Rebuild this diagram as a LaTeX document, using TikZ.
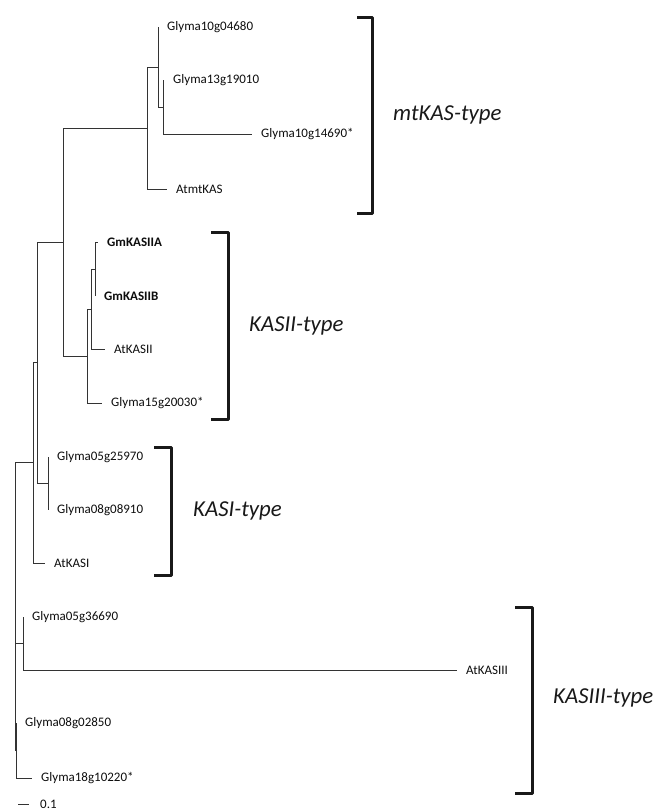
\documentclass[tikz,border=0pt]{standalone}
\usepackage{fontspec}
\setmainfont{Carlito}
\usetikzlibrary{positioning}
\tikzset{leaf/.style ={
        font=\fontsize{13}{15}\selectfont,
        text=black!95,
        inner sep=1pt,
    },
    gene/.style ={
        leaf,
        font=\fontsize{13}{15}\selectfont\bfseries,
    },
    clade/.style ={
        font=\fontsize{22.8}{25}\selectfont\itshape,
        text=black!90,
        inner sep=1pt,
    }}

\begin{document}
\begin{tikzpicture}
    [
    x=1pt, y=-1pt,
    node distance=8pt,
    br/.style={
        draw=black!80,
        line width=1pt
    },
    brk/.style={
        draw=black!90,
        line width=3pt,
        line join=round
    }
    ]
    \useasboundingbox (0,0) rectangle (669,812);

    % tips
    \coordinate (t1) at (158,27);
    \coordinate (t2) at (164,80);
    \coordinate (t3) at (252,134);
    \coordinate (t4) at (167,189);
    \coordinate (t5) at (98,242);
    \coordinate (t6) at (95,296);
    \coordinate (t7) at (105,349);
    \coordinate (t8) at (102,403);
    \coordinate (t9) at (48,457);
    \coordinate (t10) at (48,510);
    \coordinate (t11) at (45,563);
    \coordinate (t12) at (23,617);
    \coordinate (t13) at (457,670);
    \coordinate (t14) at (16,723);
    \coordinate (t15) at (32,778);

    % inner nodes
    \coordinate (a) at (163,107);
    \coordinate (b) at (158,67);
    \coordinate (c) at (147,128);
    \coordinate (d) at (95,269);
    \coordinate (e) at (91,309);
    \coordinate (f) at (87,356);
    \coordinate (g) at (63,242);
    \coordinate (h) at (48,483);
    \coordinate (i) at (37,362);
    \coordinate (j) at (33,462);
    \coordinate (k) at (23,643);
    \coordinate (l) at (16,750);
    \coordinate (root) at (15,606);

    % leaf labels
    \node (g10g04680)[leaf,right=of t1] {Glyma10g04680};
    \node (g13g19010)[leaf,right=of t2] {Glyma13g19010};
    \node (g10g14690)[leaf,right=of t3] {Glyma10g14690*};
    \node (atmtkas)[leaf,right=of t4] {AtmtKAS};
    \node (gmkasiia)[gene,right=of t5] {GmKASIIA};
    \node (gmkasiib)[gene,right=of t6] {GmKASIIB};
    \node (atkasii)[leaf,right=of t7] {AtKASII};
    \node (g15g20030)[leaf,right=of t8] {Glyma15g20030*};
    \node (g05g25970)[leaf,right=of t9] {Glyma05g25970};
    \node (g08g08910)[leaf,right=of t10] {Glyma08g08910};
    \node (atkasi)[leaf,right=of t11] {AtKASI};
    \node (g05g36690)[leaf,right=of t12] {Glyma05g36690};
    \node (atkasiii)[leaf,right=of t13] {AtKASIII};
    \node (g08g02850)[leaf,right=of t14] {Glyma08g02850};
    \node (g18g10220)[leaf,right=of t15] {Glyma18g10220*};

    % branches
    \draw[br] (a) |- (t2);
    \draw[br] (a) |- (t3);
    \draw[br] (b) |- (t1);
    \draw[br] (b) |- (a);
    \draw[br] (c) |- (b);
    \draw[br] (c) |- (t4);
    \draw[br] (d) |- (t5);
    \draw[br] (d) |- (t6);
    \draw[br] (e) |- (d);
    \draw[br] (e) |- (t7);
    \draw[br] (f) |- (e);
    \draw[br] (f) |- (t8);
    \draw[br] (g) |- (c);
    \draw[br] (g) |- (f);
    \draw[br] (h) |- (t9);
    \draw[br] (h) |- (t10);
    \draw[br] (i) |- (g);
    \draw[br] (i) |- (h);
    \draw[br] (j) |- (i);
    \draw[br] (j) |- (t11);
    \draw[br] (k) |- (t12);
    \draw[br] (k) |- (t13);
    \draw[br] (l) |- (t14);
    \draw[br] (l) |- (t15);
    \draw[br] (root) |- (j);
    \draw[br] (root) |- (k);
    \draw[br] (root) |- (l);

    % brackets
    \coordinate (mt1) at (357,17);
    \coordinate (mt2) at (357,213);
    \coordinate (mtk) at (372,115);
    \coordinate (k21) at (211,232);
    \coordinate (k22) at (211,419);
    \coordinate (k2k) at (228,326);
    \coordinate (k11) at (154,447);
    \coordinate (k12) at (154,575);
    \coordinate (k1k) at (171,511);
    \coordinate (k31) at (515,607);
    \coordinate (k32) at (515,793);
    \coordinate (k3k) at (532,698);

    \draw[brk] (mt1) -| (mtk) |- (mt2);
    \draw[brk] (k21) -| (k2k) |- (k22);
    \draw[brk] (k11) -| (k1k) |- (k12);
    \draw[brk] (k31) -| (k3k) |- (k32);

    \node (mtkas)[clade,right=20pt of mtk] {mtKAS-type};
    \node (kasii)[clade,right=20pt of k2k] {KASII-type};
    \node (kasi)[clade,right=21pt of k1k] {KASI-type};
    \node (kasiii)[clade,right=20pt of k3k] {KASIII-type};

    % scale bar
    \coordinate (s1) at (18,804);
    \coordinate (s2) at (29,804);
    \draw[br] (s1) -- (s2);
    \node (scale)[leaf,right=10pt of s2] {0.1};
\end{tikzpicture}
\end{document}
